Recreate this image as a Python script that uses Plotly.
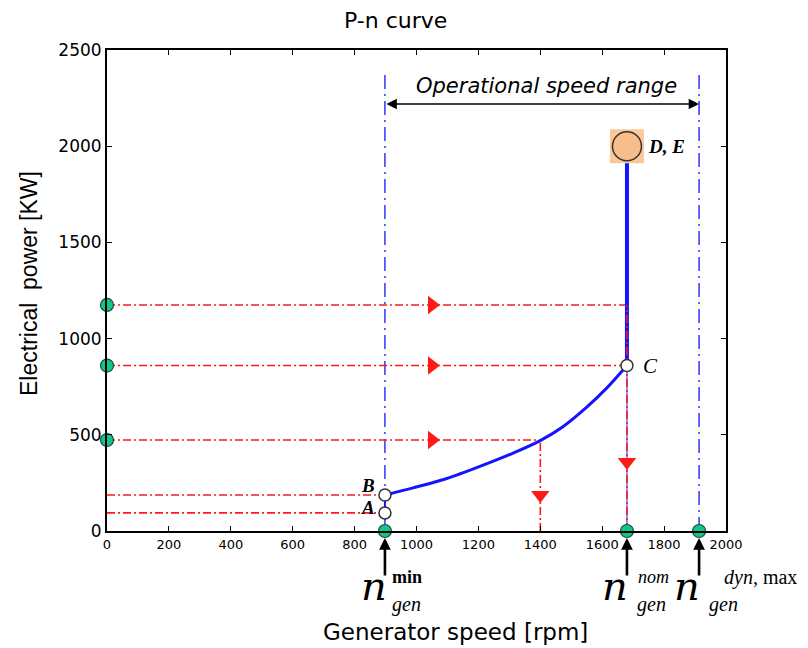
import plotly.graph_objects as go

# ---- data ----
speed_min = 898
speed_nom = 1680
speed_dyn_max = 1913
op_range_level = 2219
guide_top = 2390

curve_speed = [898, 989, 1098, 1205, 1312, 1400, 1473, 1551, 1616, 1680]
curve_power = [187, 224, 273, 336, 405, 470, 542, 645, 745, 860]

power_A = 94
power_B = 187
power_C = 860
power_DE = 2000

level_powers = [1175, 860, 473]          # green markers on the power axis
level_end_speeds = [1680, 1680, 1400]    # where the red guides meet the curve
drop_speeds = [1400, 1680]               # red guides dropping to the speed axis
drop_tops = [473, 1175]
right_arrow_speed = 1050
drop_arrow_powers = [187, 359]

x_ticks = [0, 200, 400, 600, 800, 1000, 1200, 1400, 1600, 1800, 2000]
y_ticks = [0, 500, 1000, 1500, 2000, 2500]

# ---- layout helpers (screen pixel targets) ----
OFF = 8                      # page body margin
Ls, Rs, Ts, Bs = 107, 726, 50, 531
W, H = 808 - OFF, 648 - OFF


def px(xs):
    return (xs - Ls) / (Rs - Ls)


def py(ys):
    return (Bs - ys) / (Bs - Ts)


RED = "#ff1a1a"
BLUE = "#1414ff"
GREEN = "#14c48e"
SANS = "DejaVu Sans"
NSANS = "Liberation Sans"
SERIF = "Liberation Serif"
WSERIF = "DejaVu Serif"
RED_DASH = "8px,3px,2px,3px"
BLUE_DASH = "14px,5px,2px,5px"

fig = go.Figure()

# blue dash-dot guides at n_min and n_dyn,max
for s in [speed_min, speed_dyn_max]:
    fig.add_trace(go.Scatter(x=[s, s], y=[0, guide_top], mode="lines",
                             line=dict(color=BLUE, width=1.3, dash=BLUE_DASH),
                             hoverinfo="skip", showlegend=False))

# red horizontal guides
for p, s in zip(level_powers, level_end_speeds):
    fig.add_trace(go.Scatter(x=[0, s], y=[p, p], mode="lines",
                             line=dict(color=RED, width=1.6, dash=RED_DASH),
                             hoverinfo="skip", showlegend=False))
for p in [power_A, power_B]:
    fig.add_trace(go.Scatter(x=[0, speed_min], y=[p, p], mode="lines",
                             line=dict(color=RED, width=1.6, dash=RED_DASH),
                             hoverinfo="skip", showlegend=False))

# thin blue below C
fig.add_trace(go.Scatter(x=[speed_nom, speed_nom], y=[0, power_C], mode="lines",
                         line=dict(color="#8c8cff", width=2),
                         hoverinfo="skip", showlegend=False))

# main P-n curve
fig.add_trace(go.Scatter(x=curve_speed, y=curve_power, mode="lines",
                         line=dict(color=BLUE, width=3, shape="spline", smoothing=0.8),
                         hoverinfo="skip", showlegend=False))
fig.add_trace(go.Scatter(x=[speed_nom, speed_nom], y=[power_C, power_DE], mode="lines",
                         line=dict(color=BLUE, width=4),
                         hoverinfo="skip", showlegend=False))
fig.add_trace(go.Scatter(x=[speed_min, speed_min], y=[power_A, power_B], mode="lines",
                         line=dict(color=BLUE, width=2),
                         hoverinfo="skip", showlegend=False))

# red vertical drops
for s, top in zip(drop_speeds, drop_tops):
    fig.add_trace(go.Scatter(x=[s, s], y=[0, top], mode="lines",
                             line=dict(color=RED, width=1.6, dash=RED_DASH),
                             hoverinfo="skip", showlegend=False))

# red arrow heads
fig.add_trace(go.Scatter(x=[right_arrow_speed] * len(level_powers), y=level_powers,
                         mode="markers",
                         marker=dict(symbol="triangle-right", size=16, color=RED),
                         hoverinfo="skip", showlegend=False))
fig.add_trace(go.Scatter(x=drop_speeds, y=drop_arrow_powers, mode="markers",
                         marker=dict(symbol="triangle-down", size=16, color=RED),
                         hoverinfo="skip", showlegend=False))

# A, B, C open points
fig.add_trace(go.Scatter(x=[speed_min, speed_min, speed_nom], y=[power_A, power_B, power_C],
                         mode="markers",
                         marker=dict(size=12, color="white", line=dict(color="#333333", width=1.5)),
                         hoverinfo="skip", showlegend=False, cliponaxis=False))

# D, E point
fig.add_trace(go.Scatter(x=[speed_nom], y=[power_DE], mode="markers",
                         marker=dict(symbol="square", size=34, color="#fbc89c"),
                         hoverinfo="skip", showlegend=False))
fig.add_trace(go.Scatter(x=[speed_nom], y=[power_DE], mode="markers",
                         marker=dict(size=29, color="#f7bd8a", line=dict(color="#333333", width=1.5)),
                         hoverinfo="skip", showlegend=False))

# green markers on axes
fig.add_trace(go.Scatter(x=[0] * len(level_powers), y=level_powers, mode="markers",
                         marker=dict(size=13, color=GREEN, line=dict(color="#1e4a3c", width=1.2)),
                         hoverinfo="skip", showlegend=False, cliponaxis=False))
fig.add_trace(go.Scatter(x=[speed_min, speed_nom, speed_dyn_max], y=[0, 0, 0], mode="markers",
                         marker=dict(size=13, color=GREEN, line=dict(color="#1e4a3c", width=1.2)),
                         hoverinfo="skip", showlegend=False, cliponaxis=False))

ann = []


def txt(xs, ys, text, size, family=SANS, angle=0, xanchor="center"):
    ann.append(dict(x=px(xs), y=py(ys), xref="paper", yref="paper", text=text,
                    xanchor=xanchor, yanchor="middle", textangle=angle,
                    showarrow=False, font=dict(family=family, size=size, color="black")))


# point labels
ann.append(dict(x=speed_min, y=power_B, text="<b><i>B</i></b>", xanchor="right", yanchor="middle",
                xshift=-8, yshift=10, showarrow=False,
                font=dict(family=SERIF, size=19, color="black")))
ann.append(dict(x=speed_min, y=power_A, text="<b><i>A</i></b>", xanchor="right", yanchor="middle",
                xshift=-8, yshift=5, showarrow=False,
                font=dict(family=SERIF, size=19, color="black")))
ann.append(dict(x=speed_nom, y=power_C, text="<i>C</i>", xanchor="left", yanchor="middle",
                xshift=14, showarrow=False, font=dict(family=SERIF, size=21, color="black")))
ann.append(dict(x=speed_nom, y=power_DE, text="<b><i>D, E</i></b>", xanchor="left", yanchor="middle",
                xshift=19, showarrow=False, font=dict(family=SERIF, size=19, color="black")))

# operational speed range
ann.append(dict(x=speed_dyn_max, y=op_range_level, ax=speed_min, ay=op_range_level,
                xref="x", yref="y", axref="x", ayref="y", text="", showarrow=True,
                arrowhead=2, startarrowhead=2, arrowside="end+start", arrowsize=1.3,
                arrowwidth=1.6, arrowcolor="black"))
txt(546, 86, "<i>Operational speed range</i>", 21)

# upward arrows below speed axis
for s in [speed_min, speed_nom, speed_dyn_max]:
    ann.append(dict(x=s, y=0, xref="x", yref="y", ax=0, ay=46, text="", showarrow=True,
                    arrowhead=2, arrowsize=0.9, arrowwidth=2.6, arrowcolor="black", standoff=7))


# speed symbols
def nsym(xn, sup, sub_x, sup_x, sup_size=18):
    txt(xn, 586, "<i>n</i>", 40, WSERIF)
    txt(sup_x, 577, sup, sup_size, SERIF)
    txt(sub_x, 604, "<i>gen</i>", 20, SERIF)


nsym(374, "<b>min</b>", 406, 407)
nsym(615, "<i>nom</i>", 651, 653)
nsym(687, "<i>dyn</i>, max", 723, 760, 20)

# titles
txt(455, 632, "Generator speed [rpm]", 23)
txt(29, 283, "Electrical  power [KW]", 23, family=NSANS, angle=-90)
txt(395, 20, "P-n curve", 22)

fig.update_layout(
    width=W, height=H,
    margin=dict(l=Ls - OFF, r=W - (Rs - OFF), t=Ts - OFF, b=H - (Bs - OFF)),
    paper_bgcolor="white", plot_bgcolor="white",
    annotations=ann,
    xaxis=dict(range=[0, 2000], tickvals=x_ticks, ticktext=[str(v) for v in x_ticks],
               ticks="inside", ticklen=5, tickwidth=1.3, tickcolor="black",
               showline=True, linecolor="black", linewidth=2, mirror="ticks",
               showgrid=False, zeroline=False,
               tickfont=dict(family=SANS, size=13, color="black")),
    yaxis=dict(range=[0, 2500], tickvals=y_ticks, ticktext=[str(v) for v in y_ticks],
               ticks="inside", ticklen=5, tickwidth=1.3, tickcolor="black",
               showline=True, linecolor="black", linewidth=2, mirror="ticks",
               showgrid=False, zeroline=False,
               tickfont=dict(family=SANS, size=17, color="black")),
)

fig.write_html("out.html")
